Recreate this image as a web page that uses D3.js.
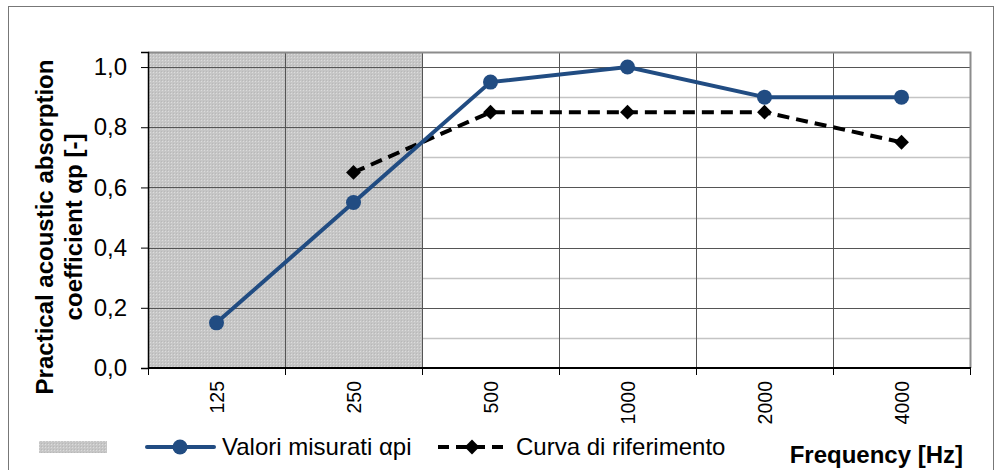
<!DOCTYPE html>
<html>
<head>
<meta charset="utf-8">
<script src="https://cdn.jsdelivr.net/npm/d3@7"></script>
<style>
  body { margin: 0; background: #fff; }
  text { font-family: Arial, "Liberation Sans", sans-serif; }
</style>
</head>
<body>
<svg width="999" height="470"></svg>
<script>
// data
const frequencies = ['125', '250', '500', '1000', '2000', '4000']
const measured = [0.15, 0.55, 0.95, 1.0, 0.9, 0.9]
const reference = [null, 0.65, 0.85, 0.85, 0.85, 0.75]
const shadedBands = ['125', '250']
const yTicks = [0, 0.2, 0.4, 0.6, 0.8, 1.0]
const minorTicks = [0.1, 0.3, 0.5, 0.7, 0.9]
const measuredName = 'Valori misurati αpi'
const referenceName = 'Curva di riferimento'

const svg = d3.select('svg')
const m = { left: 148, right: 970, top: 52, bottom: 368 }
const blue = '#214c82'
const fmt = d => d.toFixed(1).replace('.', ',')

// pattern for shaded area
const defs = svg.append('defs')
const pat = defs.append('pattern')
  .attr('id', 'dots').attr('width', 3).attr('height', 3)
  .attr('patternUnits', 'userSpaceOnUse')
pat.append('rect').attr('width', 3).attr('height', 3).attr('fill', '#c6c6c6')
pat.append('rect').attr('width', 1).attr('height', 1).attr('fill', '#dcdcdc')
pat.append('rect').attr('x', 2).attr('y', 2).attr('width', 1).attr('height', 1).attr('fill', '#b8b8b8')

// outer frame
svg.append('rect')
  .attr('x', 8.5).attr('y', 6.5).attr('width', 985).attr('height', 470)
  .attr('fill', 'none').attr('stroke', '#777')

const x = d3.scaleBand().domain(frequencies).range([m.left, m.right])
const y = d3.scaleLinear().domain([0, 1.05]).range([m.bottom, m.top])
const cx = d => x(d) + x.bandwidth() / 2

// shaded bands
svg.append('g').selectAll('rect')
  .data(shadedBands)
  .join('rect')
  .attr('x', d => x(d))
  .attr('width', x.bandwidth() + 0.5)
  .attr('y', m.top)
  .attr('height', m.bottom - m.top)
  .attr('fill', 'url(#dots)')

// minor gridlines
svg.append('g').selectAll('line')
  .data(minorTicks)
  .join('line')
  .attr('x1', m.left).attr('x2', m.right)
  .attr('y1', d => Math.round(y(d)) + 0.5).attr('y2', d => Math.round(y(d)) + 0.5)
  .attr('stroke', '#c4c4c4').attr('stroke-width', 1.5)

// major gridlines
svg.append('g').selectAll('line')
  .data(yTicks.slice(1))
  .join('line')
  .attr('x1', m.left).attr('x2', m.right)
  .attr('y1', d => Math.round(y(d)) + 0.5).attr('y2', d => Math.round(y(d)) + 0.5)
  .attr('stroke', '#555').attr('stroke-width', 1)

// vertical gridlines at category boundaries
svg.append('g').selectAll('line')
  .data(frequencies.slice(1))
  .join('line')
  .attr('x1', d => Math.round(x(d)) + 0.5).attr('x2', d => Math.round(x(d)) + 0.5)
  .attr('y1', m.top).attr('y2', m.bottom)
  .attr('stroke', '#555').attr('stroke-width', 1)

// frame of plot area (top, right)
svg.append('path')
  .attr('d', `M${m.left},${m.top + 0.5}H${m.right + 0.5}V${m.bottom}`)
  .attr('fill', 'none').attr('stroke', '#8c8c8c').attr('stroke-width', 2)

// y axis
const yAxis = d3.axisLeft(y).tickValues(yTicks).tickFormat(fmt).tickSize(7).tickPadding(14)
const ya = svg.append('g').attr('transform', `translate(${m.left},0)`).call(yAxis)
ya.attr('font-size', null).attr('font-family', null)
ya.select('.domain').attr('stroke', '#000').attr('stroke-width', 1.5)
ya.selectAll('.tick line').attr('stroke', '#000')
ya.selectAll('text').style('font-size', '24px').attr('fill', '#000')

// x axis
const xa = svg.append('g').attr('transform', `translate(0,${m.bottom})`)
xa.append('line').attr('x1', m.left).attr('x2', m.right + 1)
  .attr('stroke', '#000').attr('stroke-width', 2)
xa.selectAll('line.tk')
  .data(frequencies.concat(['end']))
  .join('line').attr('class', 'tk')
  .attr('x1', (d, i) => Math.round(m.left + i * x.bandwidth()) + 0.5)
  .attr('x2', (d, i) => Math.round(m.left + i * x.bandwidth()) + 0.5)
  .attr('y1', 0).attr('y2', 7)
  .attr('stroke', '#000')
xa.selectAll('text')
  .data(frequencies)
  .join('text')
  .attr('transform', d => `translate(${cx(d) + 7},${13}) rotate(-90)`)
  .attr('text-anchor', 'end')
  .style('font-size', '19.5px')
  .text(d => d)

// lines
const line = d3.line()
  .defined(d => d.v != null)
  .x(d => cx(d.f))
  .y(d => y(d.v))

const refData = frequencies.map((f, i) => ({ f, v: reference[i] }))
const measData = frequencies.map((f, i) => ({ f, v: measured[i] }))

svg.append('path')
  .datum(refData)
  .attr('d', line)
  .attr('fill', 'none').attr('stroke', '#000').attr('stroke-width', 4)
  .attr('stroke-dasharray', '12,7')

svg.append('g').selectAll('path')
  .data(refData.filter(d => d.v != null))
  .join('path')
  .attr('d', d3.symbol().type(d3.symbolSquare).size(110))
  .attr('transform', d => `translate(${cx(d.f)},${y(d.v)}) rotate(45)`)
  .attr('fill', '#000')

svg.append('path')
  .datum(measData)
  .attr('d', line)
  .attr('fill', 'none').attr('stroke', blue).attr('stroke-width', 4)

svg.append('g').selectAll('circle')
  .data(measData)
  .join('circle')
  .attr('cx', d => cx(d.f)).attr('cy', d => y(d.v))
  .attr('r', 7.5)
  .attr('fill', blue)

// y title
const yt = svg.append('text')
  .attr('transform', `translate(53,${227}) rotate(-90)`)
  .attr('text-anchor', 'middle')
  .style('font-size', '24px').attr('font-weight', 'bold')
yt.append('tspan').attr('x', 0).attr('dy', 0).text('Practical acoustic absorption')
yt.append('tspan').attr('x', 0).attr('dy', 29).text('coefficient αp [-]')

// legend
const lg = svg.append('g')
lg.append('rect').attr('x', 39).attr('y', 441).attr('width', 68).attr('height', 12)
  .attr('fill', 'url(#dots)')
lg.append('line').attr('x1', 147).attr('x2', 214).attr('y1', 447).attr('y2', 447)
  .attr('stroke', blue).attr('stroke-width', 4).attr('stroke-linecap', 'round')
lg.append('circle').attr('cx', 180).attr('cy', 447).attr('r', 7.5).attr('fill', blue)
lg.append('text').attr('x', 222).attr('y', 455).style('font-size', '24px').text(measuredName)
lg.append('line').attr('x1', 438).attr('x2', 508).attr('y1', 447).attr('y2', 447)
  .attr('stroke', '#000').attr('stroke-width', 4).attr('stroke-dasharray', '11,7')
lg.append('path').attr('d', d3.symbol().type(d3.symbolSquare).size(110))
  .attr('transform', 'translate(472,447) rotate(45)').attr('fill', '#000')
lg.append('text').attr('x', 516).attr('y', 455).style('font-size', '24px').text(referenceName)

svg.append('text')
  .attr('x', 963).attr('y', 463).attr('text-anchor', 'end')
  .style('font-size', '24px').attr('font-weight', 'bold')
  .text('Frequency [Hz]')
</script>
</body>
</html>
